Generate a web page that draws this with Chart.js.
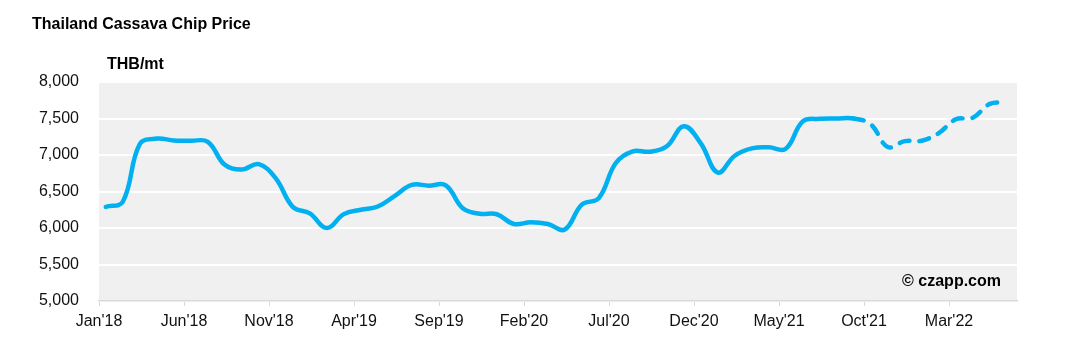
<!DOCTYPE html>
<html lang="en">
<head>
    <meta charset="UTF-8">
    <title>Thailand Cassava Chip Price</title>
    <script src="https://cdn.jsdelivr.net/npm/chart.js"></script>
    <style>
        html, body { margin: 0; padding: 0; background: #fff; }
        #wrap { width: 1072px; height: 362px; position: relative; }
    </style>
</head>
<body>
<div id="wrap"><canvas id="cassava"></canvas></div>
<script>
    // month labels, Jan'18 .. Jun'22
    var months = ["Jan'18","Feb'18","Mar'18","Apr'18","May'18","Jun'18","Jul'18","Aug'18","Sep'18","Oct'18","Nov'18","Dec'18",
                  "Jan'19","Feb'19","Mar'19","Apr'19","May'19","Jun'19","Jul'19","Aug'19","Sep'19","Oct'19","Nov'19","Dec'19",
                  "Jan'20","Feb'20","Mar'20","Apr'20","May'20","Jun'20","Jul'20","Aug'20","Sep'20","Oct'20","Nov'20","Dec'20",
                  "Jan'21","Feb'21","Mar'21","Apr'21","May'21","Jun'21","Jul'21","Aug'21","Sep'21","Oct'21","Nov'21","Dec'21",
                  "Jan'22","Feb'22","Mar'22","Apr'22","May'22","Jun'22"];

    // THB/mt
    var prices = [6290, 6360, 7150, 7225, 7200, 7195, 7180, 6865, 6800, 6875, 6680, 6290,
                  6200, 6000, 6190, 6250, 6295, 6440, 6590, 6580, 6585, 6270, 6195, 6188,
                  6055, 6078, 6055, 5980, 6320, 6410, 6890, 7050, 7045, 7120, 7395, 7160,
                  6760, 6990, 7090, 7105, 7085, 7460, 7495, 7500, 7500, 7420, 7110, 7190,
                  7196, 7300, 7489, 7510, 7700, 7718];

    var forecastFrom = 44;   // dashed from here on
    var xTicks = [0, 5, 10, 15, 20, 25, 30, 35, 40, 45, 50];
    var yTicks = [5000, 5500, 6000, 6500, 7000, 7500, 8000];

    var points = prices.map(function(v, i) { return { x: i + 0.4, y: v }; });

    var FONT = "'Liberation Sans', Arial, sans-serif";

    var extras = {
        id: 'extras',
        beforeDraw: function(chart) {
            var a = chart.chartArea, c = chart.ctx;
            c.save();
            c.fillStyle = '#f0f0f0';
            c.fillRect(a.left, a.top, a.right - a.left, a.bottom - a.top);
            c.restore();
        },
        afterDraw: function(chart) {
            var a = chart.chartArea, c = chart.ctx;
            c.save();
            c.fillStyle = '#000';
            c.textBaseline = 'middle';
            c.font = 'bold 16px ' + FONT;
            c.textAlign = 'left';
            c.fillText('Thailand Cassava Chip Price', 32, 25);
            c.fillText('THB/mt', 107, 65);
            c.textAlign = 'right';
            c.fillText('\u00A9 czapp.com', a.right - 16, a.bottom - 19);
            c.restore();
        }
    };

    new Chart(document.getElementById('cassava').getContext('2d'), {
        type: 'line',
        data: {
            datasets: [{
                label: 'Cassava chip price',
                data: points,
                borderColor: '#00b0f0',
                borderWidth: 4.5,
                borderCapStyle: 'round',
                borderJoinStyle: 'round',
                pointRadius: 0,
                tension: 0.4,
                fill: false,
                segment: {
                    borderDash: function(ctx) { return ctx.p0DataIndex >= forecastFrom ? [10, 10] : undefined; }
                }
            }]
        },
        options: {
            responsive: true,
            maintainAspectRatio: false,
            animation: false,
            layout: { padding: { top: 82, right: 55, bottom: 0, left: 0 } },
            plugins: {
                legend: { display: false },
                tooltip: { enabled: false }
            },
            scales: {
                x: {
                    type: 'linear',
                    min: 0,
                    max: 54,
                    afterBuildTicks: function(scale) {
                        scale.ticks = xTicks.map(function(v) { return { value: v }; });
                    },
                    afterFit: function(scale) { scale.height = 61; },
                    ticks: {
                        callback: function(v) { return months[v]; },
                        color: '#111',
                        font: { family: FONT, size: 16 },
                        padding: 6,
                        maxRotation: 0,
                        autoSkip: false
                    },
                    grid: {
                        drawOnChartArea: false,
                        color: '#d9d9d9',
                        tickLength: 5
                    },
                    border: { color: '#d9d9d9', width: 1.5 }
                },
                y: {
                    min: 5000,
                    max: 8000,
                    afterBuildTicks: function(scale) {
                        scale.ticks = yTicks.map(function(v) { return { value: v }; });
                    },
                    afterFit: function(scale) { scale.width = 99; },
                    ticks: {
                        callback: function(v) { return v.toLocaleString('en-US'); },
                        color: '#111',
                        font: { family: FONT, size: 16 },
                        padding: 20
                    },
                    grid: {
                        color: '#ffffff',
                        lineWidth: 2,
                        drawTicks: false
                    },
                    border: { display: false }
                }
            }
        },
        plugins: [extras]
    });
</script>
</body>
</html>
